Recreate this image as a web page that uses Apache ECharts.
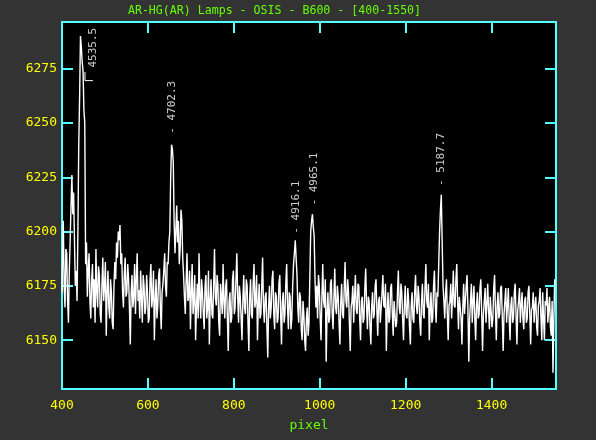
<!DOCTYPE html>
<html>
<head>
<meta charset="utf-8">
<script src="https://cdn.jsdelivr.net/npm/echarts@6/dist/echarts.min.js"></script>
<style>html,body{margin:0;padding:0;background:#333333;}#chart{width:596px;height:440px;}</style>
</head>
<body>
<div id="chart"></div>
<script>
// ---- data ----
const titleText = 'AR-HG(AR) Lamps - OSIS - B600 - [400-1550]';
const xAxisTitle = 'pixel';
const pixelStart = 400;
const pixelStep = 2;
const counts = [
  6172,6185,6205,6175,6165,6192,6190,6168,6158,6182,6196,6212,6226,6208,6218,6196,6175,6182,6168,6200,
  6240,6262,6290,6285,6278,6274,6256,6250,6185,6195,6170,6182,6190,6168,6160,6178,6185,6165,6178,6158,
  6192,6172,6165,6184,6180,6162,6158,6176,6188,6168,6175,6186,6152,6172,6182,6165,6160,6178,6172,6158,
  6155,6175,6186,6178,6195,6188,6200,6196,6203,6185,6190,6172,6165,6180,6188,6170,6172,6185,6178,6165,
  6148,6172,6180,6165,6170,6185,6162,6178,6190,6168,6173,6160,6182,6170,6158,6180,6175,6162,6165,6180,
  6172,6158,6160,6178,6185,6165,6170,6182,6150,6168,6178,6160,6166,6180,6183,6165,6155,6172,6176,6182,
  6190,6175,6170,6186,6185,6195,6200,6225,6240,6238,6232,6205,6190,6200,6212,6195,6205,6185,6192,6210,
  6205,6188,6180,6170,6162,6178,6190,6168,6170,6182,6155,6172,6185,6162,6168,6180,6150,6165,6176,6160,
  6190,6170,6160,6178,6172,6162,6155,6175,6180,6160,6165,6182,6148,6168,6178,6162,6160,6175,6192,6170,
  6166,6180,6175,6158,6152,6176,6170,6162,6185,6168,6160,6175,6178,6160,6145,6168,6172,6158,6160,6178,
  6182,6162,6165,6178,6190,6170,6158,6175,6170,6160,6150,6168,6180,6165,6162,6178,6175,6158,6145,6170,
  6178,6162,6160,6176,6185,6165,6168,6180,6150,6166,6176,6160,6162,6175,6188,6166,6158,6170,6172,6156,
  6142,6165,6175,6160,6165,6178,6182,6162,6155,6172,6170,6158,6160,6176,6180,6162,6148,6168,6172,6158,
  6162,6176,6185,6165,6155,6172,6170,6155,6160,6175,6185,6190,6196,6188,6180,6165,6158,6172,6170,6155,
  6150,6168,6162,6150,6145,6160,6165,6152,6158,6180,6200,6205,6208,6202,6198,6178,6165,6175,6160,6180,
  6175,6160,6150,6170,6185,6168,6165,6178,6140,6162,6172,6158,6160,6176,6178,6162,6155,6170,6183,6165,
  6162,6175,6170,6158,6148,6168,6176,6162,6160,6174,6186,6168,6165,6178,6172,6158,6145,6165,6168,6175,
  6158,6170,6180,6164,6162,6176,6175,6160,6150,6168,6170,6158,6160,6174,6183,6166,6155,6170,6168,6156,
  6148,6166,6172,6160,6162,6175,6178,6164,6152,6168,6170,6158,6158,6172,6180,6166,6165,6176,6145,6162,
  6172,6158,6160,6174,6176,6162,6152,6168,6168,6156,6158,6172,6182,6165,6162,6176,6172,6160,6150,6166,
  6175,6162,6160,6174,6168,6156,6148,6166,6172,6160,6158,6172,6180,6166,6162,6175,6170,6158,6152,6168,
  6176,6162,6160,6174,6185,6168,6165,6176,6150,6164,6172,6158,6160,6175,6182,6166,6158,6172,6170,6185,
  6200,6210,6217,6195,6175,6168,6160,6172,6178,6162,6150,6166,6168,6176,6160,6170,6182,6166,6165,6178,
  6185,6168,6155,6170,6170,6160,6148,6165,6176,6162,6162,6175,6180,6164,6140,6160,6168,6176,6158,6168,
  6175,6160,6150,6166,6172,6160,6162,6174,6178,6162,6145,6162,6168,6174,6158,6166,6176,6164,6155,6170,
  6170,6156,6160,6174,6180,6164,6150,6166,6172,6160,6162,6174,6175,6160,6145,6162,6168,6174,6158,6166,
  6174,6160,6150,6166,6170,6158,6160,6172,6176,6162,6148,6164,6168,6174,6158,6166,6172,6160,6155,6168,
  6170,6158,6160,6172,6175,6162,6148,6164,6165,6172,6158,6166,6170,6156,6152,6166,6168,6174,6160,6150,
  6172,6160,6150,6168,6166,6174,6158,6165,6170,6156,6152,6168,6135,6160,6178
];
const xTicks = [400, 600, 800, 1000, 1200, 1400];
const yTicks = [6150, 6175, 6200, 6225, 6250, 6275];
const xRange = [400, 1550];
const yRange = [6127.5, 6296.5];
// line identifications (wavelength, pixel, label base count)
const lineNames = ['4535.5', '4702.3', '4916.1', '4965.1', '5187.7'];
const linePrefix = ['', '- ', '- ', '- ', '- '];
const linePixel = [472, 657, 945, 986, 1283];
const lineCount = [6275.5, 6245, 6199, 6212, 6221];
const leaderPixel = [453.5, 453.5, 472];
const leaderCount = [6273.5, 6269.5, 6269.5];

// ---- build ----
const spectrum = counts.map((v, i) => [pixelStart + i * pixelStep, v]);
const ids = lineNames.map((n, i) => ({ value: [linePixel[i], lineCount[i]], name: linePrefix[i] + n }));
const leader = leaderPixel.map((p, i) => [p, leaderCount[i]]);

const CYAN = '#55ffff', YEL = '#ffff00', GRN = '#66ff00';
const MONO = 'DejaVu Sans Mono';

const chart = echarts.init(document.getElementById('chart'), null, { renderer: 'canvas' });
const tick = vals => ({ inside: true, length: 11, customValues: vals, lineStyle: { color: CYAN, width: 2 } });
chart.setOption({
  backgroundColor: '#333333',
  animation: false,
  grid: { left: 62, right: 40, top: 22, bottom: 51, show: true, backgroundColor: '#000000', borderColor: CYAN, borderWidth: 2 },
  graphic: [
    { type: 'text', x: 274.5, y: 11, style: { text: titleText, fill: GRN, font: '11.6px "DejaVu Sans Mono"', align: 'center', verticalAlign: 'middle' } },
    { type: 'text', x: 309, y: 426, style: { text: xAxisTitle, fill: GRN, font: '13px "DejaVu Sans Mono"', align: 'center', verticalAlign: 'middle' } }
  ],
  xAxis: [
    { type: 'value', min: xRange[0], max: xRange[1], position: 'bottom',
      axisLine: { show: false }, splitLine: { show: false }, axisTick: tick(xTicks),
      axisLabel: { customValues: xTicks, formatter: v => String(v), color: YEL, fontFamily: MONO, fontSize: 13, margin: 10 } },
    { type: 'value', min: xRange[0], max: xRange[1], position: 'top',
      axisLine: { show: false }, splitLine: { show: false }, axisTick: tick(xTicks), axisLabel: { show: false } }
  ],
  yAxis: [
    { type: 'value', min: yRange[0], max: yRange[1], position: 'left',
      axisLine: { show: false }, splitLine: { show: false }, axisTick: tick(yTicks),
      axisLabel: { customValues: yTicks, formatter: v => String(v), color: YEL, fontFamily: MONO, fontSize: 13, margin: 5 } },
    { type: 'value', min: yRange[0], max: yRange[1], position: 'right',
      axisLine: { show: false }, splitLine: { show: false }, axisTick: tick(yTicks), axisLabel: { show: false } }
  ],
  series: [
    { type: 'line', data: spectrum, step: 'middle', showSymbol: false, symbol: 'none',
      lineStyle: { color: '#ffffff', width: 1.4 }, clip: true, z: 2 },
    { type: 'line', data: leader, showSymbol: false, symbol: 'none',
      lineStyle: { color: '#ffffff', width: 1 }, z: 3 },
    { type: 'scatter', data: ids, symbolSize: 0, z: 4,
      label: { show: true, position: [0, 0], rotate: 90, align: 'left', verticalAlign: 'middle',
        formatter: p => p.name, color: '#ffffff', fontFamily: MONO, fontSize: 11 } }
  ]
});
</script>
</body>
</html>
